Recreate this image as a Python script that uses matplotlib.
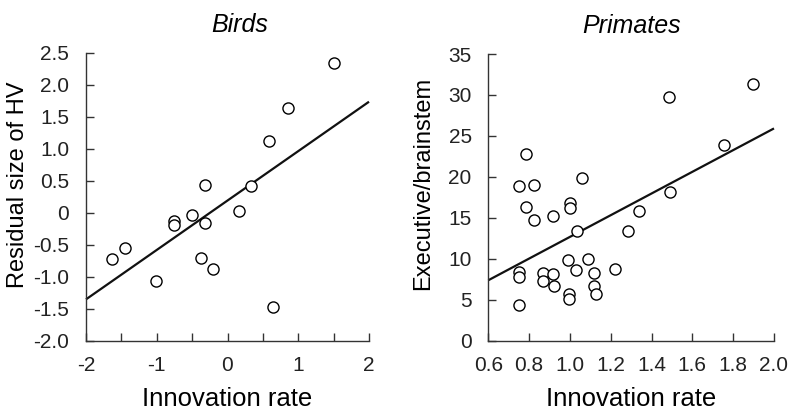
import matplotlib
matplotlib.use("Agg")
import matplotlib.pyplot as plt
import numpy as np

plt.rcParams['font.family'] = ['Liberation Sans', 'DejaVu Sans']
plt.rcParams['axes.unicode_minus'] = False

# birds: innovation rate vs residual HV size
bird_x = [1.50, 0.855, 0.59, -0.315, 0.333, 0.16, -0.507, -0.76, -0.76, -0.32,
          -1.45, -1.634, -0.38, -0.21, -1.014, 0.643]
bird_y = [2.34, 1.63, 1.125, 0.43, 0.417, 0.02, -0.036, -0.125, -0.19, -0.16,
          -0.557, -0.73, -0.70, -0.885, -1.06, -1.474]
bird_fit = (0.772, 0.19)  # slope, intercept

# primates: innovation rate vs executive/brainstem ratio
prim_x = [1.895, 1.485, 1.755, 1.491, 1.337, 1.284, 0.784, 0.749, 0.823, 0.785,
          0.823, 0.917, 1.058, 1.0, 1.0, 1.033, 0.99, 1.091, 1.032, 1.12,
          1.22, 0.749, 0.749, 0.869, 0.869, 0.917, 0.92, 1.12, 1.128, 0.996,
          0.996, 0.749]
prim_y = [31.36, 29.7, 23.93, 18.13, 15.82, 13.35, 22.76, 18.86, 18.99, 16.27,
          14.73, 15.25, 19.88, 16.84, 16.23, 13.35, 9.82, 10.02, 8.6, 8.32,
          8.76, 8.44, 7.79, 8.32, 7.30, 8.11, 6.73, 6.65, 5.68, 5.68,
          5.03, 4.30]
prim_fit = (13.24, -0.566)

bird_xticks = [-2, -1, 0, 1, 2]
bird_yticks = [2.5, 2.0, 1.5, 1.0, 0.5, 0, -0.5, -1.0, -1.5, -2.0]
bird_ylabels = ['2.5', '2.0', '1.5', '1.0', '0.5', '0', '-0.5', '-1.0', '-1.5', '-2.0']
prim_xticks = [0.6, 0.8, 1.0, 1.2, 1.4, 1.6, 1.8, 2.0]
prim_yticks = [0, 5, 10, 15, 20, 25, 30, 35]

W, H = 788, 413
fig = plt.figure(figsize=(W / 100, H / 100), dpi=100)
ax1 = fig.add_axes([86 / W, 1 - 340.7 / H, 283 / W, 288 / H])
ax2 = fig.add_axes([488.3 / W, 1 - 340.7 / H, 285.7 / W, 286.7 / H])

spine_col = '#333333'
tick_fs = 15
xlabel_fs = 18.5
ylabel_fs = 17
title_fs = 18


def style(ax):
    for s in ['top', 'right']:
        ax.spines[s].set_visible(False)
    for s in ['left', 'bottom']:
        ax.spines[s].set_color(spine_col)
        ax.spines[s].set_linewidth(1.0)
    ax.tick_params(direction='in', length=6, width=1.0, color=spine_col,
                   labelsize=tick_fs, labelcolor='#222222')
    ax.tick_params(axis='y', pad=12)
    ax.tick_params(axis='x', pad=11)
    ax.tick_params(axis='x', which='minor', direction='in', length=6, width=1.0,
                   color=spine_col)


def draw(ax, x, y, fit, xlim):
    ax.scatter(x, y, s=64, facecolor='white', edgecolor='black', linewidth=1.0,
               zorder=3, clip_on=False)
    xs = np.array(xlim)
    ax.plot(xs, fit[0] * xs + fit[1], color='#111111', lw=1.6, zorder=2,
            solid_capstyle='butt', clip_on=False)


draw(ax1, bird_x, bird_y, bird_fit, (-2, 2))
ax1.set_xlim(-2, 2)
ax1.set_ylim(-2.0, 2.5)
ax1.set_xticks(bird_xticks)
ax1.set_xticks(np.arange(-1.5, 2, 1.0), minor=True)
ax1.set_yticks(bird_yticks)
ax1.set_yticklabels(bird_ylabels)
style(ax1)
ax1.set_xlabel('Innovation rate', fontsize=xlabel_fs, labelpad=9)
ax1.set_ylabel('Residual size of HV', fontsize=ylabel_fs)
ax1.yaxis.set_label_coords(-0.2, 0.54)
ax1.set_title('Birds', fontsize=title_fs, style='italic', x=0.544, pad=15)

draw(ax2, prim_x, prim_y, prim_fit, (0.6, 2.0))
ax2.set_xlim(0.6, 2.0)
ax2.set_ylim(0, 35)
ax2.set_xticks(prim_xticks)
ax2.set_xticklabels(['%.1f' % v for v in prim_xticks])
ax2.set_yticks(prim_yticks)
style(ax2)
ax2.set_xlabel('Innovation rate', fontsize=xlabel_fs, labelpad=9)
ax2.set_ylabel('Executive/brainstem', fontsize=ylabel_fs)
ax2.yaxis.set_label_coords(-0.19, 0.55)
ax2.set_title('Primates', fontsize=title_fs, style='italic', pad=15)

fig.savefig('out.png', dpi=100, facecolor='white')
